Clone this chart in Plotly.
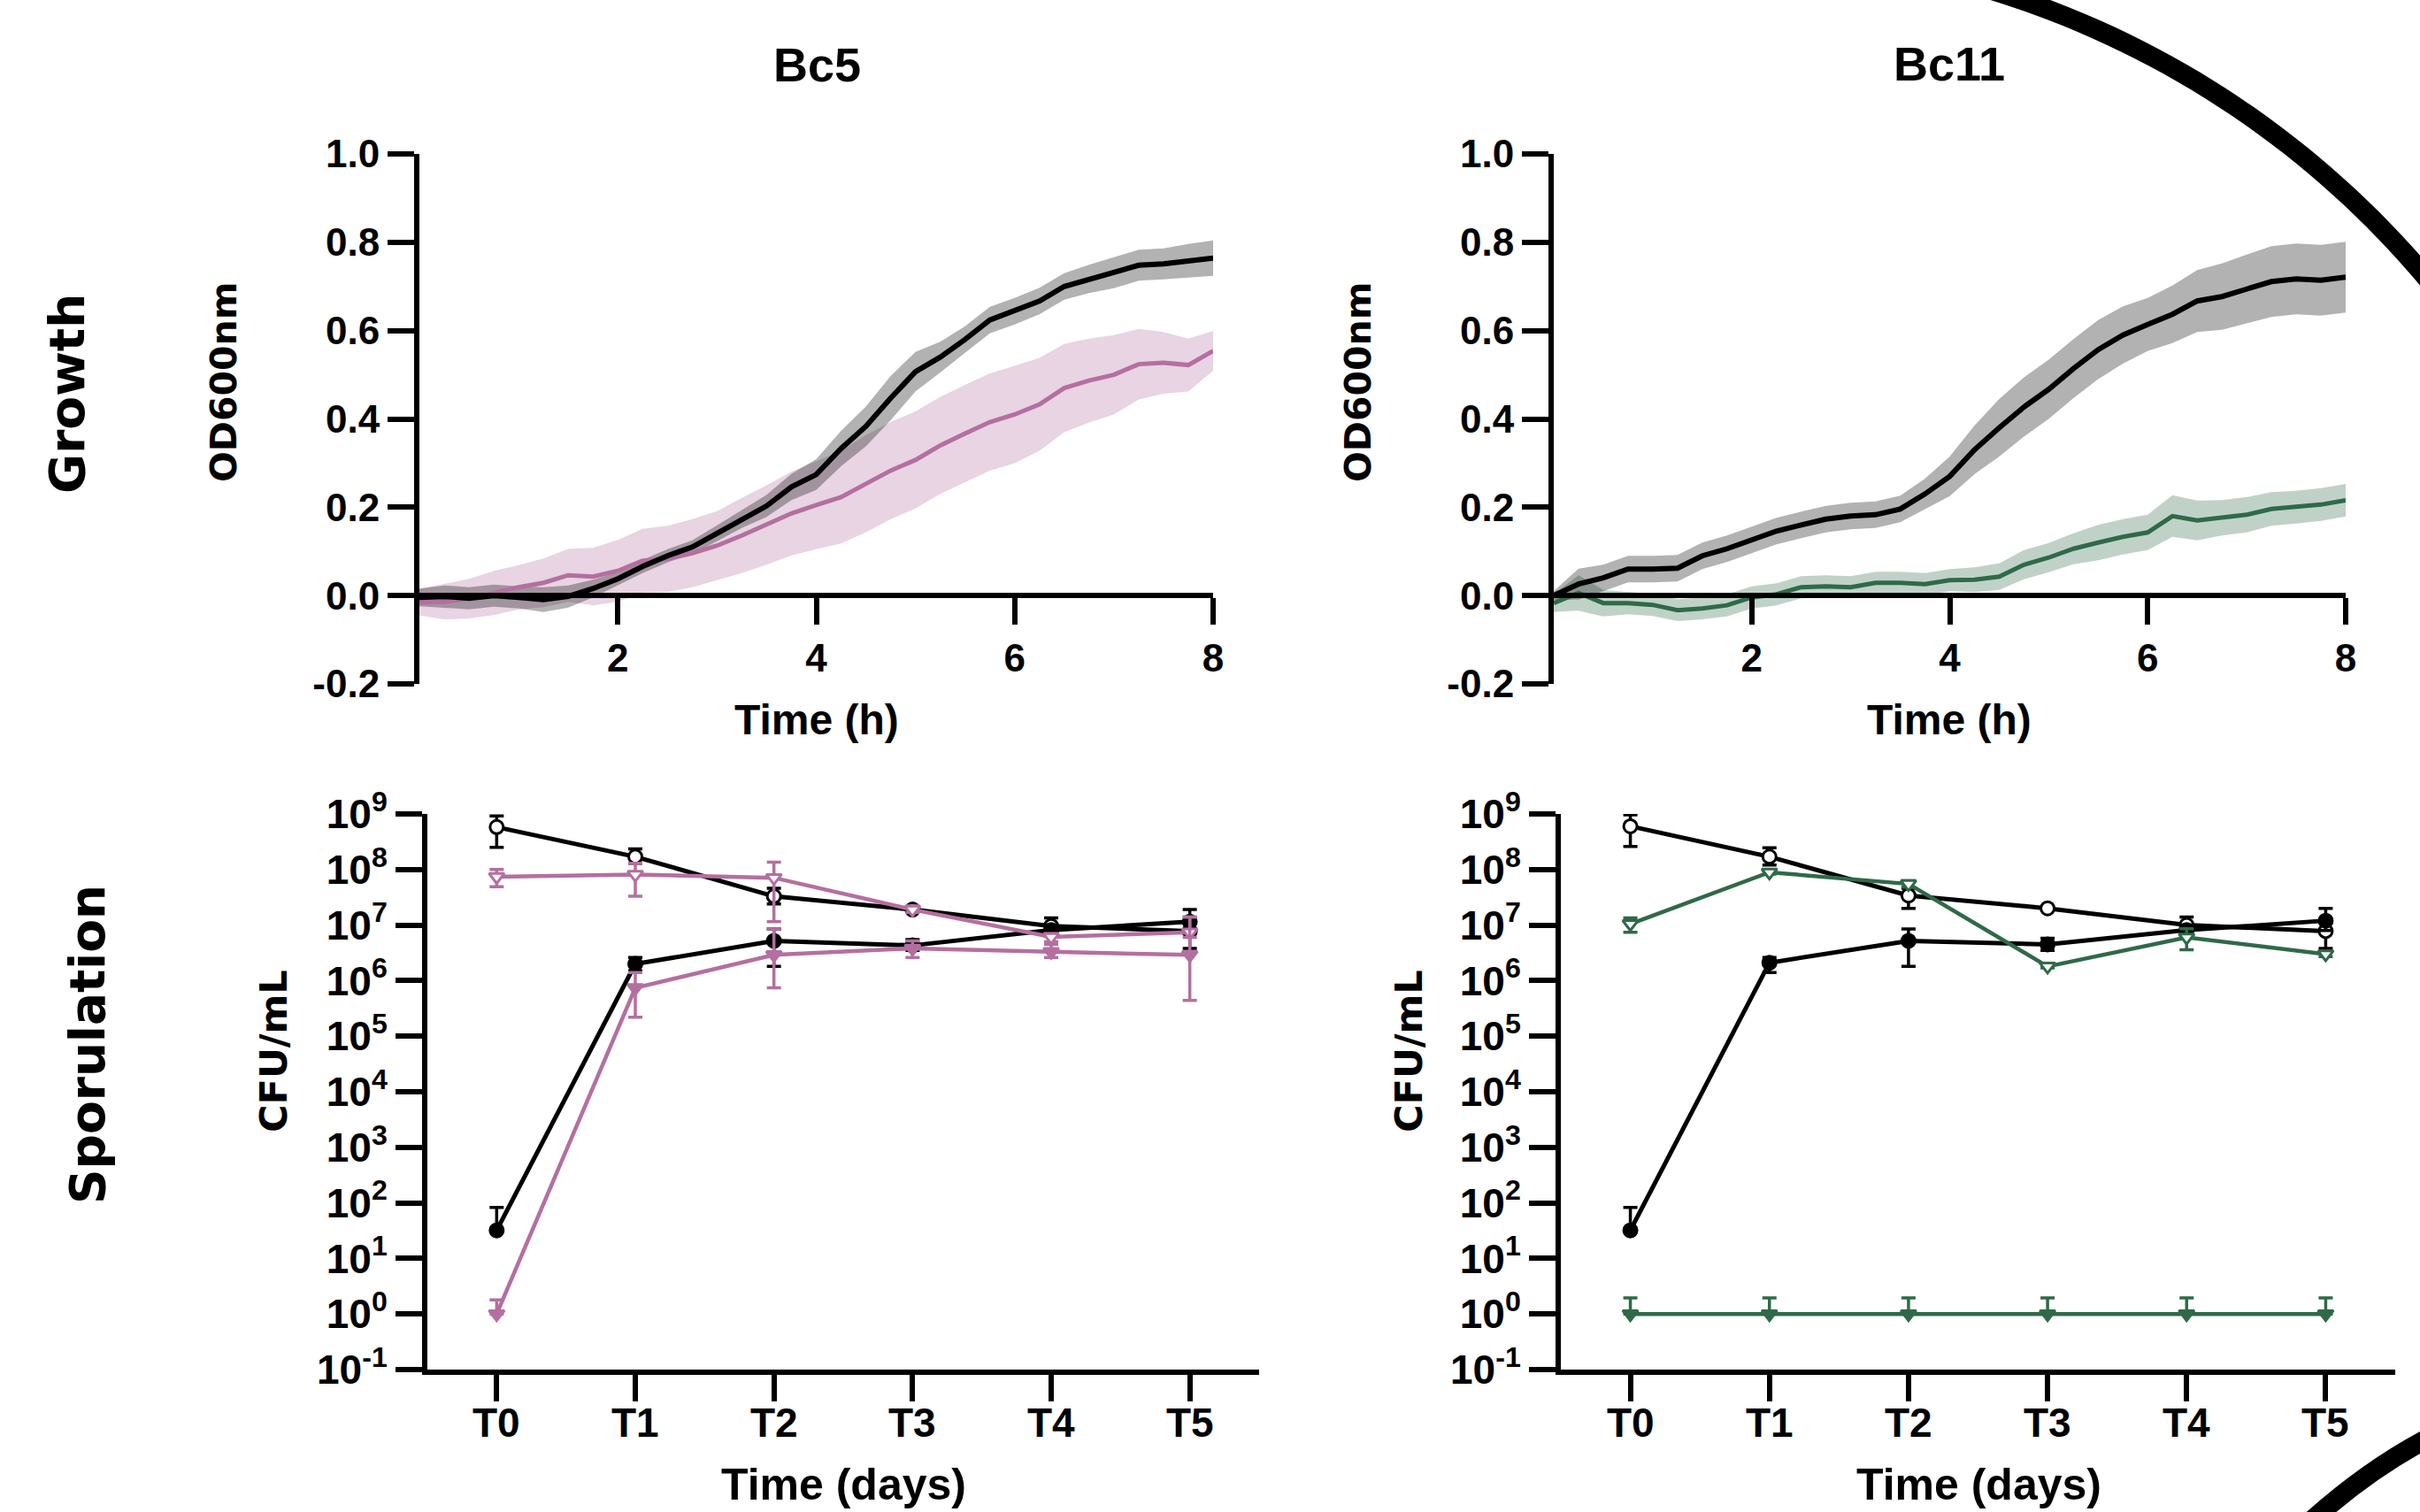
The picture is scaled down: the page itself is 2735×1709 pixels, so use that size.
import math
import plotly.graph_objects as go

W, H = 2735, 1709

# ---------------- Growth data (OD600nm, mean and SD) ----------------
time_h = [0, 0.25, 0.5, 0.75, 1.0, 1.25, 1.5, 1.75, 2.0, 2.25, 2.5, 2.75, 3.0, 3.25, 3.5, 3.75,
          4.0, 4.25, 4.5, 4.75, 5.0, 5.25, 5.5, 5.75, 6.0, 6.25, 6.5, 6.75, 7.0, 7.25, 7.5, 7.75, 8.0]

bc5_wt_mean = [-0.004, -0.002, -0.006, 0.0, -0.004, -0.009, -0.002, 0.016, 0.038, 0.066, 0.09, 0.11,
               0.141, 0.173, 0.203, 0.246, 0.274, 0.333, 0.383, 0.447, 0.507, 0.54, 0.58, 0.624,
               0.644, 0.667, 0.70, 0.717, 0.731, 0.748, 0.751, 0.758, 0.764]
bc5_wt_sd = [0.02, 0.025, 0.025, 0.025, 0.025, 0.028, 0.025, 0.02, 0.015, 0.015, 0.015, 0.015,
             0.018, 0.02, 0.025, 0.03, 0.035, 0.04, 0.045, 0.05, 0.045, 0.035, 0.03, 0.03,
             0.03, 0.03, 0.03, 0.032, 0.035, 0.035, 0.035, 0.038, 0.04]
bc5_mut_mean = [-0.015, -0.014, -0.007, 0.006, 0.019, 0.029, 0.046, 0.043, 0.056, 0.079, 0.083, 0.096,
                0.113, 0.136, 0.16, 0.186, 0.205, 0.223, 0.253, 0.283, 0.307, 0.34, 0.367, 0.393,
                0.41, 0.433, 0.47, 0.487, 0.50, 0.524, 0.527, 0.522, 0.554]
bc5_mut_sd = [0.03, 0.04, 0.045, 0.05, 0.05, 0.055, 0.06, 0.065, 0.07, 0.072, 0.075, 0.077,
              0.078, 0.085, 0.09, 0.095, 0.10, 0.105, 0.11, 0.11, 0.11, 0.11, 0.11, 0.11,
              0.11, 0.105, 0.10, 0.095, 0.09, 0.08, 0.07, 0.06, 0.045]

bc11_wt_mean = [0.0, 0.026, 0.04, 0.06, 0.06, 0.062, 0.09, 0.106, 0.126, 0.146, 0.16, 0.173,
                0.18, 0.183, 0.196, 0.23, 0.27, 0.33, 0.38, 0.427, 0.467, 0.514, 0.557, 0.59,
                0.614, 0.637, 0.667, 0.677, 0.694, 0.711, 0.717, 0.714, 0.721]
bc11_wt_sd = [0.01, 0.035, 0.03, 0.03, 0.03, 0.03, 0.03, 0.03, 0.03, 0.03, 0.03, 0.03,
              0.03, 0.03, 0.03, 0.035, 0.045, 0.055, 0.065, 0.067, 0.067, 0.067, 0.067, 0.065,
              0.06, 0.065, 0.07, 0.075, 0.078, 0.08, 0.08, 0.08, 0.08]
bc11_mut_mean = [-0.017, 0.006, -0.017, -0.017, -0.021, -0.033, -0.029, -0.022, -0.004, 0.003, 0.019, 0.021,
                 0.019, 0.029, 0.029, 0.026, 0.035, 0.036, 0.043, 0.07, 0.086, 0.106, 0.12, 0.133,
                 0.143, 0.18, 0.17, 0.176, 0.183, 0.196, 0.2, 0.206, 0.216]
bc11_mut_sd = [0.02, 0.04, 0.03, 0.025, 0.025, 0.025, 0.025, 0.025, 0.025, 0.025, 0.025, 0.025,
               0.025, 0.025, 0.025, 0.025, 0.025, 0.028, 0.03, 0.033, 0.033, 0.035, 0.04, 0.04,
               0.04, 0.047, 0.045, 0.04, 0.04, 0.038, 0.037, 0.037, 0.037]

od_ticks = [-0.2, 0.0, 0.2, 0.4, 0.6, 0.8, 1.0]
od_ticktext = ["-0.2", "0.0", "0.2", "0.4", "0.6", "0.8", "1.0"]
time_ticks = [2, 4, 6, 8]

# ---------------- Sporulation data (CFU/mL) ----------------
days = [0, 1, 2, 3, 4, 5]
day_labels = ["T0", "T1", "T2", "T3", "T4", "T5"]

bc5_wt_total = [5.8e8, 1.7e8, 3.3e7, 1.9e7, 9.6e6, 7.8e6]
bc5_wt_total_hi = [9.2e8, 2.35e8, 4.6e7, 2.1e7, 1.35e7, 1.1e7]
bc5_wt_total_lo = [2.5e8, 1.3e8, 2.4e7, 1.8e7, 6.3e6, 3.8e6]
bc5_wt_spore = [32, 2.0e6, 5.2e6, 4.3e6, 8.1e6, 1.15e7]
bc5_wt_spore_hi = [83, 2.6e6, 8.5e6, 5.5e6, 1.0e7, 1.9e7]
bc5_wt_spore_lo = [32, 1.5e6, 1.8e6, 3.5e6, 6.5e6, 7.0e6]
bc5_mut_total = [7.4e7, 8.1e7, 7.1e7, 1.9e7, 6.1e6, 7.4e6]
bc5_mut_total_hi = [1.0e8, 1.3e8, 1.35e8, 2.2e7, 7.0e6, 1.4e7]
bc5_mut_total_lo = [4.9e7, 3.3e7, 1.15e7, 1.7e7, 5.0e6, 6.0e6]
bc5_mut_spore = [1.0, 7.4e5, 2.9e6, 3.8e6, 3.3e6, 2.9e6]
bc5_mut_spore_hi = [1.8, 1.4e6, 8.5e6, 5.2e6, 4.5e6, 1.4e7]
bc5_mut_spore_lo = [1.0, 2.2e5, 7.4e5, 2.6e6, 2.6e6, 4.4e5]

bc11_wt_total = [6.0e8, 1.7e8, 3.4e7, 2.0e7, 1.0e7, 7.8e6]
bc11_wt_total_hi = [9.6e8, 2.45e8, 4.6e7, 2.1e7, 1.4e7, 1.1e7]
bc11_wt_total_lo = [2.6e8, 1.2e8, 2.0e7, 1.9e7, 6.3e6, 3.8e6]
bc11_wt_spore = [32, 2.1e6, 5.2e6, 4.5e6, 8.1e6, 1.2e7]
bc11_wt_spore_hi = [83, 2.6e6, 8.5e6, 5.8e6, 1.0e7, 2.0e7]
bc11_wt_spore_lo = [32, 1.4e6, 1.8e6, 3.5e6, 6.5e6, 8.0e6]
bc11_mut_total = [1.05e7, 8.9e7, 5.5e7, 1.8e6, 6.0e6, 3.0e6]
bc11_mut_total_hi = [1.35e7, 9.5e7, 6.3e7, 1.9e6, 8.6e6, 3.3e6]
bc11_mut_total_lo = [7.4e6, 8.3e7, 4.8e7, 1.7e6, 3.6e6, 2.7e6]
bc11_mut_spore = [1.0, 1.0, 1.0, 1.0, 1.0, 1.0]
bc11_mut_spore_hi = [1.95, 1.95, 1.95, 1.95, 1.95, 1.95]
bc11_mut_spore_lo = [1.0, 1.0, 1.0, 1.0, 1.0, 1.0]

cfu_ticks = [1e-1, 1e0, 1e1, 1e2, 1e3, 1e4, 1e5, 1e6, 1e7, 1e8, 1e9]
cfu_ticktext = ["10<sup>-1</sup>", "10<sup>0</sup>", "10<sup>1</sup>", "10<sup>2</sup>", "10<sup>3</sup>",
                "10<sup>4</sup>", "10<sup>5</sup>", "10<sup>6</sup>", "10<sup>7</sup>", "10<sup>8</sup>",
                "10<sup>9</sup>"]

# ---------------- styles ----------------
BLACK = "#000000"
PINK = "#b46fa0"
GREEN = "#2f6a48"
PINK_BAND = "rgba(180,111,160,0.30)"
GREY_BAND = "rgba(0,0,0,0.30)"
GREEN_BAND = "rgba(47,106,72,0.30)"
ARIAL = "Liberation Sans, Arial, Helvetica, sans-serif"
DEJAVU = "DejaVu Sans, Verdana, sans-serif"


def px(x):
    return x / W


def py(y):
    return 1 - y / H


fig = go.Figure()


def add_band(xa, ya, mean, sd, band_color):
    lower = [m - s for m, s in zip(mean, sd)]
    upper = [m + s for m, s in zip(mean, sd)]
    fig.add_trace(go.Scatter(x=time_h, y=lower, xaxis=xa, yaxis=ya, mode="lines",
                             line=dict(width=0, color=band_color), hoverinfo="skip", showlegend=False))
    fig.add_trace(go.Scatter(x=time_h, y=upper, xaxis=xa, yaxis=ya, mode="lines", fill="tonexty",
                             fillcolor=band_color, line=dict(width=0, color=band_color),
                             hoverinfo="skip", showlegend=False))


def add_line(xa, ya, mean, color, lw):
    fig.add_trace(go.Scatter(x=time_h, y=mean, xaxis=xa, yaxis=ya, mode="lines",
                             line=dict(width=lw, color=color), showlegend=False))


# Growth Bc5
add_band("x", "y", bc5_mut_mean, bc5_mut_sd, PINK_BAND)
add_band("x", "y", bc5_wt_mean, bc5_wt_sd, GREY_BAND)
add_line("x", "y", bc5_mut_mean, PINK, 5)
add_line("x", "y", bc5_wt_mean, BLACK, 6)

# Growth Bc11
add_band("x2", "y2", bc11_mut_mean, bc11_mut_sd, GREEN_BAND)
add_band("x2", "y2", bc11_wt_mean, bc11_wt_sd, GREY_BAND)
add_line("x2", "y2", bc11_mut_mean, GREEN, 5)
add_line("x2", "y2", bc11_wt_mean, BLACK, 6)


def add_cfu(xa, ya, vals, hi, lo, color, symbol, hollow, lw):
    plus = [h - v for h, v in zip(hi, vals)]
    minus = [v - l for v, l in zip(vals, lo)]
    fig.add_trace(go.Scatter(
        x=days, y=vals, xaxis=xa, yaxis=ya, mode="lines+markers",
        line=dict(color=color, width=lw),
        marker=dict(symbol=symbol, size=15, color="white" if hollow else color,
                    line=dict(color=color, width=3)),
        error_y=dict(type="data", symmetric=False, array=plus, arrayminus=minus,
                     color=color, thickness=3.5, width=8),
        cliponaxis=False, showlegend=False))


add_cfu("x3", "y3", bc5_wt_total, bc5_wt_total_hi, bc5_wt_total_lo, BLACK, "circle", True, 5)
add_cfu("x3", "y3", bc5_wt_spore, bc5_wt_spore_hi, bc5_wt_spore_lo, BLACK, "circle", False, 5)
add_cfu("x3", "y3", bc5_mut_total, bc5_mut_total_hi, bc5_mut_total_lo, PINK, "triangle-down", True, 4.5)
add_cfu("x3", "y3", bc5_mut_spore, bc5_mut_spore_hi, bc5_mut_spore_lo, PINK, "triangle-down", False, 4.5)

add_cfu("x4", "y4", bc11_wt_total, bc11_wt_total_hi, bc11_wt_total_lo, BLACK, "circle", True, 5)
add_cfu("x4", "y4", bc11_wt_spore, bc11_wt_spore_hi, bc11_wt_spore_lo, BLACK, "circle", False, 5)
add_cfu("x4", "y4", bc11_mut_total, bc11_mut_total_hi, bc11_mut_total_lo, GREEN, "triangle-down", True, 4.5)
add_cfu("x4", "y4", bc11_mut_spore, bc11_mut_spore_hi, bc11_mut_spore_lo, GREEN, "triangle-down", False, 4.5)

tickfont = dict(family=ARIAL, size=44, color="black", weight="bold")
tickfont_b = dict(family=ARIAL, size=46, color="black", weight="bold")
axis_common = dict(showline=True, linecolor="black", linewidth=6, ticks="outside", ticklen=30,
                   tickwidth=6, tickcolor="black", showgrid=False, zeroline=False,
                   automargin=False)

zero_y = py(673)
fig.update_layout(
    template="none",
    width=W, height=H, autosize=False,
    margin=dict(l=0, r=0, t=0, b=0, pad=0, autoexpand=False),
    paper_bgcolor="white", plot_bgcolor="white",
    showlegend=False,
    xaxis=dict(domain=[px(474), px(1371)], range=[0, 8], anchor="free", position=zero_y,
               tickmode="array", tickvals=time_ticks, tickfont=tickfont, **axis_common),
    yaxis=dict(domain=[py(773), py(174)], range=[-0.2, 1.0], anchor="x",
               tickmode="array", tickvals=od_ticks, ticktext=od_ticktext, tickfont=tickfont, **axis_common),
    xaxis2=dict(domain=[px(1756), px(2651)], range=[0, 8], anchor="free", position=zero_y,
                tickmode="array", tickvals=time_ticks, tickfont=tickfont, **axis_common),
    yaxis2=dict(domain=[py(773), py(174)], range=[-0.2, 1.0], anchor="x2",
                tickmode="array", tickvals=od_ticks, ticktext=od_ticktext, tickfont=tickfont, **axis_common),
    xaxis3=dict(domain=[px(483), px(1423)], range=[-0.5, 5.5], anchor="y3",
                tickmode="array", tickvals=days, showticklabels=False, **axis_common),
    yaxis3=dict(domain=[py(1548), py(920)], type="log", range=[-1, 9], anchor="x3",
                tickmode="array", tickvals=cfu_ticks, ticktext=cfu_ticktext, tickfont=tickfont_b,
                **axis_common),
    xaxis4=dict(domain=[px(1764), px(2707)], range=[-0.5, 5.5], anchor="y4",
                tickmode="array", tickvals=days, showticklabels=False, **axis_common),
    yaxis4=dict(domain=[py(1548), py(920)], type="log", range=[-1, 9], anchor="x4",
                tickmode="array", tickvals=cfu_ticks, ticktext=cfu_ticktext, tickfont=tickfont_b,
                **axis_common),
)

# Category tick labels of the sporulation plots (placed close under the ticks)
for xa in ("x3", "x4"):
    for d, lab in zip(days, day_labels):
        fig.add_annotation(text=lab, x=d, y=py(1608), xref=xa, yref="paper", showarrow=False,
                           xanchor="center", yanchor="middle",
                           font=dict(family=ARIAL, size=46, color="black", weight="bold"))


def ann(text, x, y, size, family, angle=0):
    fig.add_annotation(text=text, x=px(x), y=py(y), xref="paper", yref="paper",
                       showarrow=False, textangle=angle, xanchor="center", yanchor="middle",
                       font=dict(family=family, size=size, color="black", weight="bold"))


ann("Bc5", 923, 73, 54, ARIAL)
ann("Bc11", 2203, 72, 54, ARIAL)
ann("Time (h)", 923, 813, 48, ARIAL)
ann("Time (h)", 2203, 813, 48, ARIAL)
ann("Time (days)", 953, 1678, 50, ARIAL)
ann("Time (days)", 2236, 1678, 50, ARIAL)
ann("OD600nm", 253, 432, 41, DEJAVU, -90)
ann("OD600nm", 1535, 432, 41, DEJAVU, -90)
ann("CFU/mL", 309, 1188, 43, DEJAVU, -90)
ann("CFU/mL", 1592, 1188, 43, DEJAVU, -90)
ann("Growth", 76, 445, 55, DEJAVU, -90)
ann("Sporulation", 99, 1181, 55, DEJAVU, -90)

# Decorative black arc at the right edge (part of a large circle framing the panel)
cx, cy, r = 1945, 985, 1042
pts = []
for k in range(0, 49):
    a = math.radians(-80 + k)
    pts.append((cx + r * math.cos(a), cy + r * math.sin(a)))
path = "M " + " L ".join(f"{px(x):.5f},{py(y):.5f}" for x, y in pts)
fig.add_shape(type="path", path=path, xref="paper", yref="paper",
              line=dict(color="black", width=22))
path2 = (f"M {px(2755):.5f},{py(1620):.5f} Q {px(2675):.5f},{py(1660):.5f} "
         f"{px(2600):.5f},{py(1730):.5f}")
fig.add_shape(type="path", path=path2, xref="paper", yref="paper",
              line=dict(color="black", width=22))

fig.write_html("out.html", config={"displayModeBar": False},
               post_script="document.body.style.margin='0';")
